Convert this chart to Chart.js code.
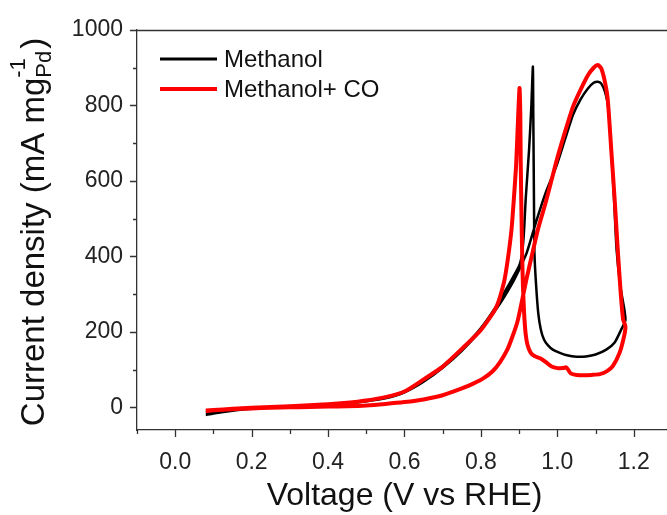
<!DOCTYPE html>
<html>
<head>
<meta charset="utf-8">
<script src="https://cdn.jsdelivr.net/npm/chart.js@4"></script>
<style>
  html, body { margin: 0; padding: 0; background: #fff; overflow: hidden; }
  #wrap { width: 667px; height: 515px; overflow: hidden; }
</style>
</head>
<body>
<div id="wrap"><canvas id="cv" width="673" height="515"></canvas></div>
<script>
// ===== dados =====
const voltageMethanol = [
  0.08, 0.10, 0.15, 0.20, 0.25, 0.30, 0.35, 0.40, 0.45, 0.50, 0.55, 0.60, 0.65, 0.70, 0.75, 0.80, 0.85, 0.88, 0.90, 0.92,
  0.946, 0.97, 0.997, 1.02, 1.041, 1.06, 1.08, 1.095, 1.106, 1.115, 1.125, 1.133, 1.14, 1.148, 1.155, 1.165, 1.176,
  1.178, 1.167, 1.15, 1.128, 1.10, 1.075, 1.05, 1.025, 1.005, 0.988, 0.975, 0.965, 0.957, 0.95, 0.944, 0.940, 0.939,
  0.938, 0.937, 0.936, 0.932, 0.926, 0.917, 0.913, 0.908, 0.90, 0.87, 0.84, 0.80, 0.75, 0.70, 0.65, 0.60, 0.55, 0.50,
  0.45, 0.40, 0.30, 0.20, 0.15, 0.10, 0.08
];
const currentMethanol = [
  -20, -16, -9, -4, 0, 3, 5, 7, 10, 16, 24, 40, 68, 105, 150, 205, 275, 325, 365, 410,
  497, 570, 638, 710, 775, 815, 845, 860, 863, 858, 835, 795, 700, 560, 418, 320, 255,
  230, 206, 172, 153, 140, 135, 134, 138, 145, 153, 165, 180, 205, 250, 330, 410, 520,
  650, 780, 903, 800, 683, 550, 470, 410, 375, 320, 268, 210, 155, 110, 72, 43, 26, 17,
  11, 7, 2, -3, -7, -11, -13
];

const voltageCO = [
  0.08, 0.10, 0.15, 0.20, 0.25, 0.30, 0.35, 0.40, 0.45, 0.50, 0.55, 0.60, 0.65, 0.70, 0.75, 0.78, 0.805, 0.83, 0.85,
  0.87, 0.883, 0.895, 0.901, 0.91, 0.919, 0.935, 0.949, 0.97, 0.997, 1.02, 1.041, 1.06, 1.08, 1.095, 1.106, 1.115,
  1.125, 1.132, 1.141, 1.15, 1.158, 1.166, 1.172, 1.178,
  1.175, 1.163, 1.145, 1.13, 1.111, 1.09, 1.07, 1.05, 1.035, 1.028, 1.023, 1.015, 1.0, 0.985, 0.97, 0.955, 0.94,
  0.93, 0.922, 0.917, 0.913, 0.910, 0.908, 0.906, 0.904, 0.903, 0.901, 0.897, 0.892, 0.886, 0.88, 0.87, 0.86, 0.84,
  0.80, 0.75, 0.70, 0.65, 0.60, 0.55, 0.50, 0.45, 0.40, 0.30, 0.20, 0.15, 0.10, 0.08
];
const currentCO = [
  -10, -8, -5, -3, -1, 0, 1, 2, 3, 5, 9, 14, 21, 32, 50, 63, 76, 95, 120,
  155, 189, 225, 251, 295, 339, 410, 471, 545, 650, 730, 797, 840, 880, 900, 907, 898,
  860, 815, 683, 550, 418, 300, 233, 215,
  190, 145, 109, 96, 88, 86, 85, 86, 90, 100, 106, 104, 104, 108, 120, 130, 136,
  145, 165, 195, 250, 320, 400, 520, 660, 780, 846, 760, 640, 550, 471, 390, 330, 265,
  205, 155, 108, 74, 42, 27, 18, 12, 8, 3, -1, -4, -7, -8
];

const seriesNames = ['Methanol', 'Methanol+ CO'];
const seriesColors = ['#000000', '#ff0000'];
const xTickValues = [-0.1, 0.0, 0.1, 0.2, 0.3, 0.4, 0.5, 0.6, 0.7, 0.8, 0.9, 1.0, 1.1, 1.2, 1.3];
const xTickLabels = ['', '0.0', '', '0.2', '', '0.4', '', '0.6', '', '0.8', '', '1.0', '', '1.2', ''];
const yTickValues = [0, 100, 200, 300, 400, 500, 600, 700, 800, 900, 1000];
const yTickLabels = ['0', '', '200', '', '400', '', '600', '', '800', '', '1000'];

const FONT = 'Arial, "Liberation Sans", sans-serif';
const AXIS_COLOR = '#333';

function toPoints(xs, ys) {
  return xs.map((x, i) => ({ x: x, y: ys[i] }));
}

// ticks maiores/menores desenhados para fora dos eixos
const ticksPlugin = {
  id: 'ticksOrigin',
  afterDraw(chart) {
    const ctx = chart.ctx;
    const area = chart.chartArea;
    const xs = chart.scales.x;
    const ys = chart.scales.y;
    ctx.save();
    ctx.strokeStyle = AXIS_COLOR;
    ctx.lineWidth = 1.3;
    ctx.beginPath();
    xTickValues.forEach((v, i) => {
      const px = Math.round(xs.getPixelForValue(v)) + 0.5;
      const len = xTickLabels[i] ? 7 : 4;
      ctx.moveTo(px, area.bottom);
      ctx.lineTo(px, area.bottom + len);
    });
    yTickValues.forEach((v, i) => {
      const py = Math.round(ys.getPixelForValue(v)) + 0.5;
      const len = yTickLabels[i] ? 7 : 4;
      ctx.moveTo(area.left, py);
      ctx.lineTo(area.left - len, py);
    });
    // moldura superior
    ctx.moveTo(area.left, area.top + 0.5);
    ctx.lineTo(area.right, area.top + 0.5);
    ctx.stroke();
    ctx.restore();
  }
};

// legenda dentro da area do grafico
const legendPlugin = {
  id: 'legendaInterna',
  afterDraw(chart) {
    const ctx = chart.ctx;
    const area = chart.chartArea;
    ctx.save();
    ctx.font = '24px ' + FONT;
    ctx.textBaseline = 'middle';
    ctx.fillStyle = '#111';
    const widths = [3, 4];
    seriesNames.forEach((name, i) => {
      const y = area.top + 29 + i * 30;
      ctx.strokeStyle = seriesColors[i];
      ctx.lineWidth = widths[i];
      ctx.beginPath();
      ctx.moveTo(area.left + 23, y);
      ctx.lineTo(area.left + 80, y);
      ctx.stroke();
      ctx.fillText(name, area.left + 87, y + 1);
    });
    ctx.restore();
  }
};

// titulo do eixo y com subscrito e sobrescrito
const yTitlePlugin = {
  id: 'tituloY',
  afterDraw(chart) {
    const ctx = chart.ctx;
    const area = chart.chartArea;
    const main = 'Current density (mA mg';
    const sub = 'Pd';
    const sup = '-1';
    const close = ')';
    ctx.save();
    ctx.fillStyle = '#111';
    ctx.textBaseline = 'alphabetic';
    ctx.font = '33px ' + FONT;
    const wMain = ctx.measureText(main).width;
    const wClose = ctx.measureText(close).width;
    ctx.font = '22px ' + FONT;
    const wSub = ctx.measureText(sub).width;
    const wSup = ctx.measureText(sup).width;
    const total = wMain + Math.max(wSub, wSup) + 2 + wClose;
    ctx.translate(44, (area.top + area.bottom) / 2 + 2);
    ctx.rotate(-Math.PI / 2);
    let x = -total / 2;
    ctx.font = '33px ' + FONT;
    ctx.fillText(main, x, 0);
    x += wMain;
    ctx.font = '22px ' + FONT;
    ctx.fillText(sub, x, 7);
    ctx.fillText(sup, x, -19);
    x += Math.max(wSub, wSup) + 2;
    ctx.font = '33px ' + FONT;
    ctx.fillText(close, x, 0);
    ctx.restore();
  }
};

new Chart(document.getElementById('cv'), {
  type: 'scatter',
  data: {
    datasets: [
      {
        label: seriesNames[0],
        data: toPoints(voltageMethanol, currentMethanol),
        showLine: true,
        borderColor: seriesColors[0],
        borderWidth: 2.5,
        pointRadius: 0,
        tension: 0.2,
        order: 1
      },
      {
        label: seriesNames[1],
        data: toPoints(voltageCO, currentCO),
        showLine: true,
        borderColor: seriesColors[1],
        borderWidth: 4,
        pointRadius: 0,
        tension: 0.2,
        order: 0
      }
    ]
  },
  options: {
    responsive: false,
    animation: false,
    layout: { padding: { top: 30, right: 1, left: 0, bottom: 0 } },
    plugins: {
      legend: { display: false },
      tooltip: { enabled: false }
    },
    scales: {
      x: {
        type: 'linear',
        min: -0.1,
        max: 1.3,
        afterBuildTicks: (scale) => { scale.ticks = xTickValues.map(v => ({ value: v })); },
        afterFit: (scale) => {
          scale.height = 85;
          scale.paddingLeft = 0;
          scale.paddingRight = 0;
        },
        grid: { display: false, drawTicks: false },
        border: { display: true, color: AXIS_COLOR, width: 1.3 },
        ticks: {
          autoSkip: false,
          maxRotation: 0,
          padding: 19,
          color: '#222',
          font: { family: FONT, size: 23 },
          callback: (v, i) => xTickLabels[i]
        },
        title: {
          display: true,
          text: 'Voltage (V vs RHE)',
          color: '#111',
          font: { family: FONT, size: 32 },
          padding: { top: 6, bottom: 0 }
        }
      },
      y: {
        type: 'linear',
        min: -60,
        max: 1000,
        afterBuildTicks: (scale) => { scale.ticks = yTickValues.map(v => ({ value: v })); },
        afterFit: (scale) => {
          scale.width = 137;
          scale.paddingTop = 0;
          scale.paddingBottom = 0;
        },
        grid: { display: false, drawTicks: false },
        border: { display: true, color: AXIS_COLOR, width: 1.3 },
        ticks: {
          autoSkip: false,
          padding: 14,
          color: '#222',
          font: { family: FONT, size: 23 },
          callback: (v, i) => yTickLabels[i]
        }
      }
    }
  },
  plugins: [ticksPlugin, legendPlugin, yTitlePlugin]
});
</script>
</body>
</html>
